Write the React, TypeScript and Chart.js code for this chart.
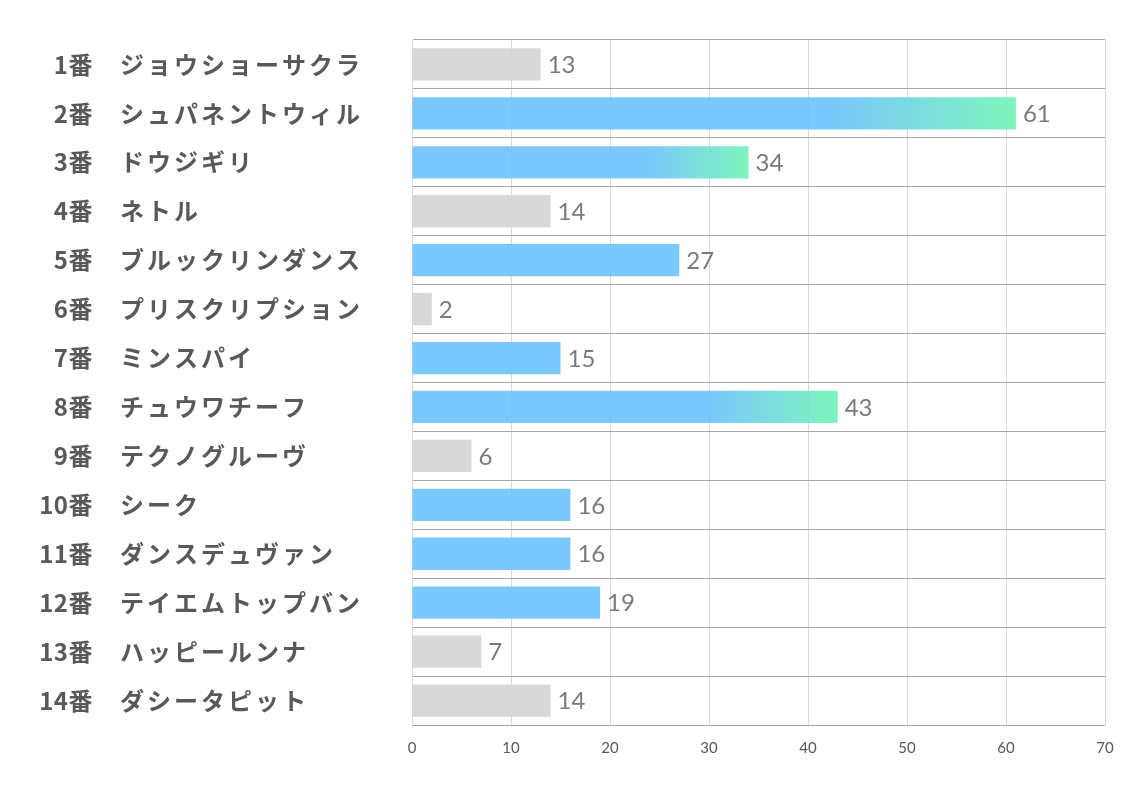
import React, { useEffect, useRef } from "react";
import { Chart, registerables } from "chart.js";

Chart.register(...registerables);

const numbers = ["1番", "2番", "3番", "4番", "5番", "6番", "7番", "8番", "9番", "10番", "11番", "12番", "13番", "14番"];
const names = [
  "ジョウショーサクラ",
  "シュパネントウィル",
  "ドウジギリ",
  "ネトル",
  "ブルックリンダンス",
  "プリスクリプション",
  "ミンスパイ",
  "チュウワチーフ",
  "テクノグルーヴ",
  "シーク",
  "ダンスデュヴァン",
  "テイエムトップバン",
  "ハッピールンナ",
  "ダシータピット",
];
const values = [13, 61, 34, 14, 27, 2, 15, 43, 6, 16, 16, 19, 7, 14];
const groups = ["gray", "grad", "grad", "gray", "blue", "gray", "blue", "grad", "gray", "blue", "blue", "blue", "gray", "gray"];
const xTicks = [0, 10, 20, 30, 40, 50, 60, 70];

const BLUE = "rgba(108,194,252,0.9)";
const GREEN = "rgba(112,245,182,0.9)";
const GRAY = "rgba(212,212,212,0.9)";

export default function App() {
  const ref = useRef<HTMLCanvasElement | null>(null);

  useEffect(() => {
    document.body.style.margin = "0";
    const canvas = ref.current;
    if (!canvas) return;

    const labelPlugin = {
      id: "customLabels",
      afterDatasetsDraw(chart: any) {
        const ctx = chart.ctx;
        const meta = chart.getDatasetMeta(0);
        ctx.save();
        ctx.font = "24px Lato, 'Liberation Sans', sans-serif";
        ctx.fillStyle = "#7a7a7a";
        ctx.textAlign = "left";
        ctx.textBaseline = "middle";
        meta.data.forEach((bar: any, i: number) => {
          ctx.fillText(String(values[i]), bar.x + 7, bar.y + 1);
        });
        ctx.restore();

        const y = chart.scales.y;
        ctx.save();
        ctx.fillStyle = "#595959";
        ctx.textBaseline = "middle";
        ctx.font = "bold 24px 'Noto Sans CJK JP', sans-serif";
        numbers.forEach((n, i) => {
          const py = y.getPixelForValue(i);
          ctx.textAlign = "right";
          (ctx as any).letterSpacing = "0.5px";
          ctx.fillText(n, 93, py);
          ctx.textAlign = "left";
          (ctx as any).letterSpacing = "3px";
          ctx.fillText(names[i], 120, py);
        });
        ctx.restore();
      },
    };

    const chart = new Chart(canvas, {
      type: "bar",
      data: {
        labels: names.map((nm, i) => numbers[i] + "　" + nm),
        datasets: [
          {
            data: values,
            backgroundColor: (c: any) => {
              const i = c.dataIndex;
              const g = groups[i];
              if (g === "gray") return GRAY;
              if (g === "blue") return BLUE;
              const xs = c.chart.scales && c.chart.scales.x;
              if (!xs || typeof i !== "number") return BLUE;
              const x0 = xs.getPixelForValue(0);
              const x1 = xs.getPixelForValue(values[i]);
              if (!isFinite(x0) || !isFinite(x1) || x1 <= x0) return BLUE;
              const grad = c.chart.ctx.createLinearGradient(x0, 0, x1, 0);
              grad.addColorStop(0, BLUE);
              grad.addColorStop(0.7, BLUE);
              grad.addColorStop(1, GREEN);
              return grad;
            },
            borderWidth: 0,
            barPercentage: 0.66,
            categoryPercentage: 1,
          },
        ],
      },
      options: {
        indexAxis: "y",
        animation: false,
        responsive: true,
        maintainAspectRatio: false,
        layout: { padding: { top: 40, right: 29, left: 0, bottom: 0 } },
        plugins: {
          legend: { display: false },
          tooltip: { enabled: false },
        },
        scales: {
          x: {
            min: 0,
            max: 70,
            afterFit: (s: any) => {
              s.height = 68;
            },
            afterBuildTicks: (s: any) => {
              s.ticks = xTicks.map((v) => ({ value: v }));
            },
            ticks: {
              color: "#595959",
              font: { size: 15, family: "Lato, 'Liberation Sans', sans-serif" },
              padding: 14,
            },
            grid: { color: "#d9d9d9", lineWidth: 1, drawTicks: false },
            border: { display: false },
          },
          y: {
            afterFit: (s: any) => {
              s.width = 412;
            },
            ticks: { display: false },
            grid: { color: "#a6a6a6", lineWidth: 1, drawTicks: false, offset: true },
            border: { display: true, color: "#d9d9d9", width: 1 },
          },
        },
      },
      plugins: [labelPlugin],
    });

    return () => chart.destroy();
  }, []);

  return (
    <div style={{ position: "relative", width: 1134, height: 793 }}>
      <canvas ref={ref} />
    </div>
  );
}
